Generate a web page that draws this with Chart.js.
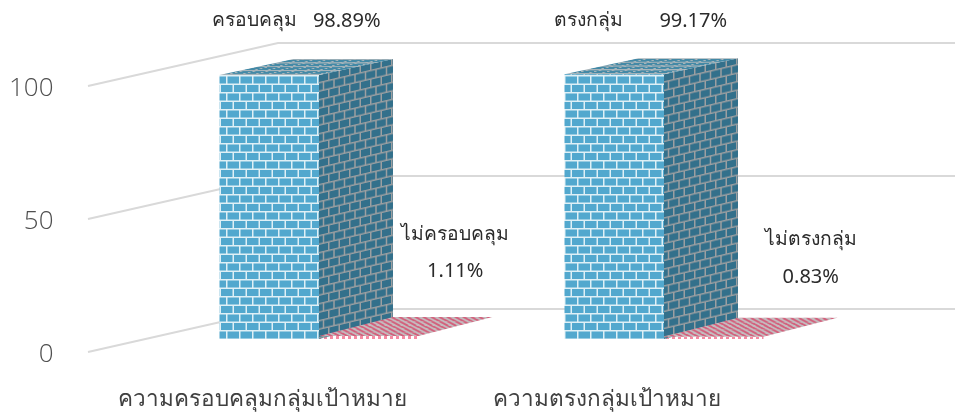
<!DOCTYPE html>
<html>
<head>
<meta charset="utf-8">
<style>html,body{margin:0;padding:0;background:#fff}canvas{display:block}</style>
<script src="https://cdn.jsdelivr.net/npm/chart.js@4"></script>
</head>
<body>
<canvas id="c" width="955" height="414"></canvas>
<script>
const categories = ['ความครอบคลุมกลุ่มเป้าหมาย', 'ความตรงกลุ่มเป้าหมาย'];
const coveredValues = [98.89, 99.17];
const notCoveredValues = [1.11, 0.83];
const coveredNames = ['ครอบคลุม', 'ตรงกลุ่ม'];
const notCoveredNames = ['ไม่ครอบคลุม', 'ไม่ตรงกลุ่ม'];
const yTickValues = [0, 50, 100];

const FONT = '"Noto Sans","Open Sans",sans-serif';

function tile(w, h, draw) {
  const c = document.createElement('canvas');
  c.width = w; c.height = h;
  draw(c.getContext('2d'));
  return document.createElement('canvas').getContext('2d').createPattern(c, 'repeat');
}
function brick(w, h, brickCol, mortar, m) {
  return tile(w, h, g => {
    g.fillStyle = mortar; g.fillRect(0, 0, w, h);
    g.fillStyle = brickCol;
    const hh = h / 2, bw = w / 2;
    g.fillRect(0, 0, bw - m, hh - m);
    g.fillRect(bw, 0, bw - m, hh - m);
    g.fillRect(0, hh, bw / 2 - m, hh - m);
    g.fillRect(bw / 2, hh, bw - m, hh - m);
    g.fillRect(bw * 1.5, hh, bw / 2, hh - m);
  });
}
const frontBlue = brick(26, 17, '#52a8ce', '#dff0f6', 1.5);
const sideBlue = brick(21, 17, '#33708b', '#9c9fa1', 1.5);
const topBlue = brick(26, 17, '#4389a6', '#a7b4ba', 2.5);
const frontPink = tile(6, 6, g => {
  g.fillStyle = '#fff'; g.fillRect(0, 0, 6, 6);
  g.fillStyle = '#f58aa2'; g.fillRect(0, 0, 3, 3); g.fillRect(3, 3, 3, 3);
});
const topPink = tile(8, 8, g => {
  g.fillStyle = '#c4bcbf'; g.fillRect(0, 0, 8, 8);
  g.strokeStyle = '#d3607c'; g.lineWidth = 3;
  for (let i = -8; i <= 16; i += 8) { g.beginPath(); g.moveTo(i, 8); g.lineTo(i + 8, 0); g.stroke(); }
});

const DEPTH_X = 74;
const depthY = v => 19 - 3 * v / 100;
const WALL_X = 278, WALL_DY = 43;

function poly(ctx, pts) {
  ctx.beginPath();
  pts.forEach((p, i) => i ? ctx.lineTo(p[0], p[1]) : ctx.moveTo(p[0], p[1]));
  ctx.closePath();
}

const threeD = {
  id: 'threeD',
  beforeDatasetsDraw(chart) {
    const ctx = chart.ctx, s = chart.scales.y;
    ctx.save();
    ctx.strokeStyle = '#d9d9d9'; ctx.lineWidth = 2;
    yTickValues.forEach(v => {
      const y = s.getPixelForValue(v);
      ctx.beginPath();
      ctx.moveTo(88, y); ctx.lineTo(WALL_X, y - WALL_DY); ctx.lineTo(955, y - WALL_DY);
      ctx.stroke();
    });
    ctx.restore();
  },
  afterDatasetsDraw(chart) {
    const ctx = chart.ctx;
    chart.data.datasets.forEach((ds, d) => {
      chart.getDatasetMeta(d).data.forEach((el, i) => {
        const v = ds.data[i];
        const l = el.x - el.width / 2, r = el.x + el.width / 2;
        const t = el.y, b = el.base;
        const dt = depthY(v), db = depthY(0);
        if (d === 0) {
          ctx.save();
          poly(ctx, [[r, t], [r + DEPTH_X, t - dt], [r + DEPTH_X, b - db], [r, b]]);
          ctx.clip();
          ctx.transform(1, -17.5 / DEPTH_X, 0, 1, r, t);
          ctx.fillStyle = sideBlue;
          ctx.fillRect(-10, -40, DEPTH_X + 20, b - t + 80);
          ctx.restore();
        }
        ctx.save();
        poly(ctx, [[l, t], [r, t], [r + DEPTH_X, t - dt], [l + DEPTH_X, t - dt]]);
        ctx.clip();
        ctx.transform(1, 0, -DEPTH_X / dt, 1, l, t);
        ctx.scale(1, 0.45);
        ctx.fillStyle = d === 0 ? topBlue : topPink;
        ctx.fillRect(-20, -100, el.width + 40, 120);
        ctx.restore();
      });
    });
    ctx.save();
    ctx.fillStyle = '#2b2b2b';
    ctx.textAlign = 'center'; ctx.textBaseline = 'middle';
    const m0 = chart.getDatasetMeta(0).data, m1 = chart.getDatasetMeta(1).data;
    const nameDx = [-15, -26], valueDx = [77.5, 79];
    const lowerDx = [86.5, 97];
    const dy1 = [235, 240], dy2 = [271, 277];
    categories.forEach((_, i) => {
      ctx.font = '19.3px ' + FONT;
      ctx.fillText(coveredNames[i], m0[i].x + nameDx[i], 21);
      ctx.fillText(notCoveredNames[i], m1[i].x + lowerDx[i], dy1[i]);
      ctx.font = '20px ' + FONT;
      ctx.fillText(coveredValues[i].toFixed(2) + '%', m0[i].x + valueDx[i], 21);
      ctx.fillText(notCoveredValues[i].toFixed(2) + '%', m1[i].x + lowerDx[i], dy2[i]);
    });
    ctx.restore();
  }
};

new Chart(document.getElementById('c'), {
  type: 'bar',
  data: {
    labels: categories,
    datasets: [
      { data: coveredValues, backgroundColor: frontBlue, yAxisID: 'y2', borderWidth: 0 },
      { data: notCoveredValues, backgroundColor: frontPink, yAxisID: 'y2', borderWidth: 0 }
    ]
  },
  options: {
    responsive: false,
    animation: false,
    events: [],
    layout: { autoPadding: false, padding: { top: 43, right: 118.5, left: 0, bottom: 0 } },
    datasets: { bar: { categoryPercentage: 0.5768, barPercentage: 1 } },
    plugins: { legend: { display: false }, tooltip: { enabled: false }, title: { display: false } },
    scales: {
      x: {
        grid: { display: false },
        border: { display: false },
        afterFit(s) { s.height = 62; s.paddingLeft = 0; s.paddingRight = 0; },
        ticks: {
          color: '#404040', padding: 26, labelOffset: -57, maxRotation: 0, autoSkip: false,
          font: { family: FONT, size: 22.5 }
        }
      },
      y: {
        min: 0, max: 116.2,
        grid: { display: false, drawTicks: false },
        border: { display: false },
        afterFit(s) { s.width = 146.5; s.paddingTop = 0; s.paddingBottom = 0; },
        afterBuildTicks(s) { s.ticks = yTickValues.map(v => ({ value: v })); },
        ticks: {
          color: '#4f4f4f', padding: 93, labelOffset: 3,
          font: { family: '"Open Sans",sans-serif', size: 26, weight: '300' }
        }
      },
      y2: { display: false, min: -4.87, max: 110.86 }
    }
  },
  plugins: [threeD]
});
</script>
</body>
</html>
